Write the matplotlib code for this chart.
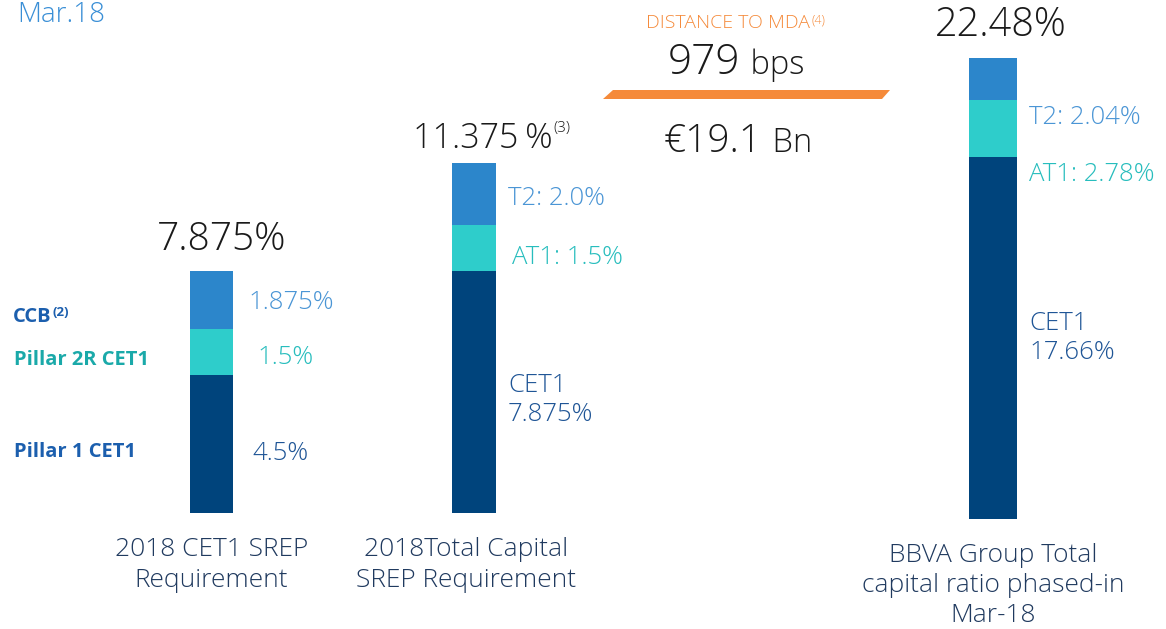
import numpy as np
import matplotlib.pyplot as plt
from matplotlib.patches import Polygon

# CET1 SREP requirement build-up (%)
req_parts = ["Pillar 1 CET1", "Pillar 2R CET1", "CCB"]
req_cet1 = [4.5, 1.5, 1.875]
req_cet1_labels = ["4.5%", "1.5%", "1.875%"]

# Total capital SREP requirement (%)
total_parts = ["CET1", "AT1", "T2"]
req_total = [7.875, 1.5, 2.0]
req_total_labels = ["CET1\n7.875%", "AT1: 1.5%", "T2: 2.0%"]

# BBVA Group phased-in total capital ratio, Mar-18 (%)
group_total = [17.66, 2.78, 2.04]
group_total_labels = ["CET1\n17.66%", "AT1: 2.78%", "T2: 2.04%"]

categories = ["2018 CET1 SREP\nRequirement",
              "2018Total Capital\nSREP Requirement",
              "BBVA Group Total\ncapital ratio phased-in\nMar-18"]

mda_bps = 979
mda_bn = 19.1

NAVY = "#00447c"
BLUE = "#2c86cb"
TEAL = "#2ecdcb"
seg_colors = [NAVY, TEAL, BLUE]
lab_colors = ["#1f5596", "#27bdbd", "#4a95d5"]
DARK = "#1a1a1a"
ORANGE = "#f58a3a"
LW = 'light'

W, H = 1166, 629
plt.rcParams['font.family'] = ['Open Sans', 'DejaVu Sans']
fig = plt.figure(figsize=(W / 100, H / 100), dpi=100)


def fx(x):
    return x / W


def fy(y):
    return 1 - y / H


# left two bars share one scale, the group bar gets its own
base1, s1 = 513, 30.75
base2, s2 = 519, 20.5
ax1 = fig.add_axes([0, 0, 1, 1])
ax1.set_xlim(0, W)
ax1.set_ylim(-(H - base1) / s1, base1 / s1)
ax2 = fig.add_axes([0, 0, 1, 1])
ax2.set_xlim(0, W)
ax2.set_ylim(-(H - base2) / s2, base2 / s2)
for ax in (ax1, ax2):
    ax.axis('off')
    ax.patch.set_alpha(0)


def stack(ax, x, vals, width):
    bottoms = np.concatenate([[0], np.cumsum(vals)[:-1]])
    for v, b, c in zip(vals, bottoms, seg_colors):
        ax.bar(x, v, bottom=b, width=width, color=c, linewidth=0)
    return bottoms


x1, x2, x3 = 211.5, 474, 993
b1 = stack(ax1, x1, req_cet1, 43)
b2 = stack(ax1, x2, req_total, 44)
b3 = stack(ax2, x3, group_total, 48)

lab_kw = dict(fontsize=18.5, fontweight=LW, va='center', ha='left',
              linespacing=1.22)

# bar 1 segment labels
dx1 = [40.5, 45.5, 36.5]
dy1 = [-0.3, -0.2, -0.1]
for v, b, t, c, dx, dy in zip(req_cet1, b1, req_cet1_labels, lab_colors,
                              dx1, dy1):
    ax1.text(x1 + dx, b + v / 2 + dy, t, color=c, **lab_kw)
ax1.annotate(f"{sum(req_cet1):.3f}%", (x1 + 10, sum(req_cet1)), xytext=(0, 12),
             textcoords='offset pixels', ha='center', va='bottom',
             fontsize=28, fontweight=LW, color=DARK)

# bar 2 segment labels
dx2 = [34, 38, 34]
dy2 = [-0.25, -0.33, -0.15]
for v, b, t, c, dx, dy in zip(req_total, b2, req_total_labels, lab_colors,
                              dx2, dy2):
    ax1.text(x2 + dx, b + v / 2 + dy, t, color=c, **lab_kw)

# bar 3 segment labels sit just under each segment's lower edge
for v, b, t, c in zip(group_total, b3, group_total_labels, lab_colors):
    y = b + v / 2 if "\n" in t else b - 0.87
    ax2.text(x3 + 36, y, t, color=c, **lab_kw)
ax2.annotate(f"{sum(group_total):.2f}%", (x3 + 8, sum(group_total)),
             xytext=(0, 12), textcoords='offset pixels', ha='center',
             va='bottom', fontsize=28.5, fontweight=LW, color=DARK)

# category labels under the bars
cat_kw = dict(ha='center', va='top', fontsize=19, fontweight=LW,
              color="#203a5f")
ax1.text(x1, -(537 - base1) / s1, categories[0], linespacing=1.32, **cat_kw)
ax1.text(x2 - 8, -(537 - base1) / s1, categories[1], linespacing=1.32, **cat_kw)
ax2.text(x3, -(543 - base2) / s2, categories[2], linespacing=1.25, **cat_kw)

fig.canvas.draw()
renderer = fig.canvas.get_renderer()


def text_with_sup(x, y, main, sup, size, sup_size, rise, gap=1, **kw):
    # main text at pixel (x, baseline y), superscript right after it
    t = fig.text(fx(x), fy(y), main, fontsize=size, va='baseline', **kw)
    right = t.get_window_extent(renderer).x1
    fig.text((right + gap) / W, fy(y - rise), sup, fontsize=sup_size,
             va='baseline', **kw)


text_with_sup(413, 148, f"{sum(req_total):.3f}\u2009%", "(3)", 24.5, 11, 16,
              fontweight=LW, color=DARK)

# left-hand legend of the CET1 components
text_with_sup(13, 322, "CCB", "(2)", 14.5, 9.5, 6, fontweight='bold',
              color="#1c5fae")
fig.text(fx(14), fy(360), req_parts[1], fontsize=14.5, fontweight='bold',
         color="#1aa9a9", va='center')
fig.text(fx(14), fy(452), req_parts[0], fontsize=14.5, fontweight='bold',
         color="#1c5fae", va='center')

# distance to MDA
fig.text(fx(17), fy(15), "Mar.18", fontsize=20, fontweight=LW,
         color="#3a8fd6", va='center')
text_with_sup(646, 28, "DISTANCE TO MDA", "(4)", 14, 9, 5,
              fontweight=LW, color=ORANGE)
text_with_sup(668, 74, f"{mda_bps}", " bps", 30.5, 23.5, 0,
              fontweight=LW, color=DARK)
text_with_sup(664, 152, f"€{mda_bn}", " Bn", 28, 23.5, 0, gap=2,
              fontweight=LW, color=DARK)
band = [(603, 99), (613, 90), (890, 90), (882, 99)]
fig.patches.append(Polygon([(fx(x), fy(y)) for x, y in band], closed=True,
                           transform=fig.transFigure, color=ORANGE, lw=0))

fig.savefig("out.png", dpi=100)
